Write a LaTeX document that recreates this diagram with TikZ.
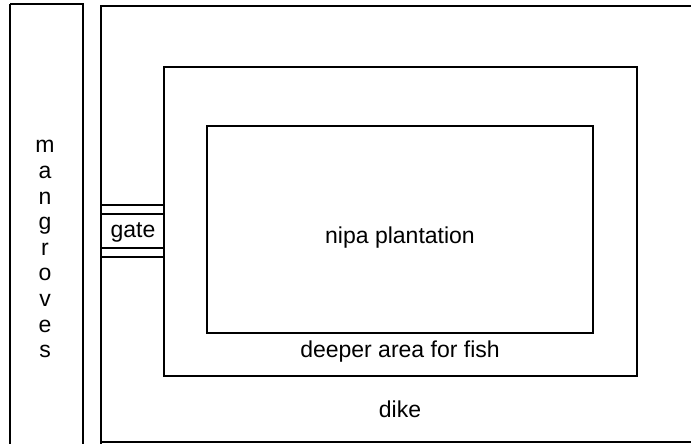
\documentclass[tikz,border=0pt]{standalone}
\usepackage{fontspec}
\setmainfont{Liberation Sans}
\begin{document}
\begin{tikzpicture}[
       x=1pt,y=-1pt,
       line width=1.2pt,
       etiquette/.style={
         inner sep=0pt,
         font=\fontsize{23}{26}\selectfont
       }
     ]

       \useasboundingbox (0,0) rectangle (691,444);
       \clip (0,0) rectangle (691,444);

       % mangroves strip
       \draw (10,4) -- (10,460) (83,460) -- (83,4) -- (10,4);
       \foreach \lettre [count=\i] in {m,a,n,g,r,o,v,e,s}
         \node (m\i) at (45,122+25.6*\i) [etiquette]{\strut\lettre};

       % dike
       \draw (101,460) -- (101,6) -- (700,6) (101,442) -- (700,442);
       \node (dike) at (400,409) [etiquette]{dike};

       % deeper area for fish
       \draw (164,67) rectangle (637,376);
       \node (fish) at (400,352) [etiquette]{deeper area for fish};

       % nipa plantation
       \draw (207,126) rectangle (593,333);
       \node (nipa) at (400,238) [etiquette]{nipa plantation};

       % gate
       \draw (101,205) -- (164,205);
       \draw (101,214) -- (164,214);
       \draw (101,248) -- (164,248);
       \draw (101,257) -- (164,257);
       \node (gate) at (133,232) [etiquette]{gate};

\end{tikzpicture}
\end{document}
